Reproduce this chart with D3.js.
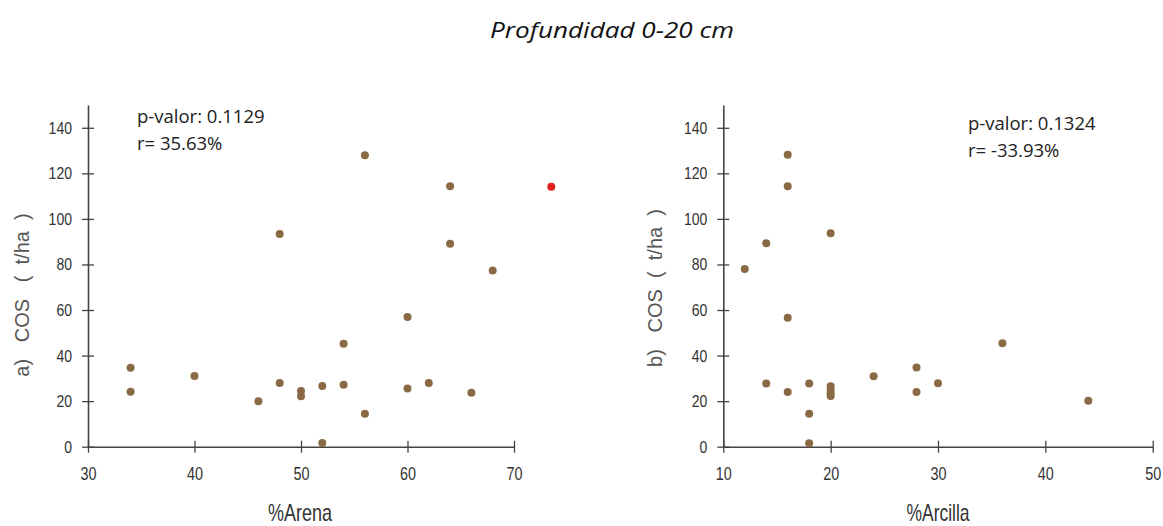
<!DOCTYPE html>
<html>
<head>
<meta charset="utf-8">
<script src="https://cdn.jsdelivr.net/npm/d3@7"></script>
<style>
  body { margin: 0; background: #fff; }
  .tick text { font-family: "Liberation Sans Narrow", "Liberation Sans", Arial, sans-serif; fill: #333; }
  .axis-title { font-family: "Liberation Sans Narrow", "Liberation Sans", Arial, sans-serif; fill: #333; }
  .y-title { font-family: "Liberation Sans", Arial, sans-serif; fill: #555; white-space: pre; }
  .note { font-family: "Open Sans", "Noto Sans", sans-serif; fill: #222; }
</style>
</head>
<body>
<svg id="canvas" width="1163" height="526"></svg>
<script>
// panel a: %Arena vs COS
var arenaX = [34, 34, 40, 46, 48, 48, 50, 50, 52, 52, 54, 54, 56, 56, 60, 60, 62, 64, 64, 66, 68];
var arenaY = [34.7, 24.1, 31.0, 19.9, 28.0, 93.4, 24.4, 22.1, 26.6, 1.6, 45.2, 27.2, 14.5, 127.9, 56.9, 25.5, 28.0, 114.3, 89.1, 23.7, 77.3];
var arenaOutX = [73.5];
var arenaOutY = [114.1];
// panel b: %Arcilla vs COS
var arcillaX = [12, 14, 14, 16, 16, 16, 16, 18, 18, 18, 20, 20, 20, 20, 20, 24, 28, 28, 30, 36, 44];
var arcillaY = [78.0, 89.3, 27.7, 128.2, 114.3, 56.6, 24.0, 27.7, 14.5, 1.5, 93.7, 26.5, 25.0, 23.5, 22.3, 30.9, 34.8, 24.0, 27.8, 45.4, 20.2];

var yTicks = [0, 20, 40, 60, 80, 100, 120, 140];
var arenaTicks = [30, 40, 50, 60, 70];
var arcillaTicks = [10, 20, 30, 40, 50];

var canvas = d3.select("#canvas");

canvas.append("text")
  .attr("x", 612).attr("y", 38)
  .attr("text-anchor", "middle")
  .attr("font-family", "'Open Sans', sans-serif")
  .attr("font-style", "italic")
  .attr("font-size", 22)
  .attr("textLength", 244)
  .attr("lengthAdjust", "spacingAndGlyphs")
  .attr("fill", "#111")
  .text("Profundidad 0-20 cm");

function panel(p) {
  var x = d3.scaleLinear().domain([p.xTicks[0], p.xTicks[p.xTicks.length - 1]]).range([p.left, p.right]);
  var y = d3.scaleLinear().domain([0, 150]).range([446.7, 105]);
  var g = canvas.append("g");

  var xAxis = g.append("g")
    .attr("transform", "translate(0," + y(0) + ")")
    .call(d3.axisBottom(x).tickValues(p.xTicks).tickSizeOuter(0).tickSizeInner(6));
  xAxis.selectAll(".tick line").attr("y1", -6).attr("y2", 6).attr("stroke", "#444").attr("stroke-width", 1.3);
  xAxis.selectAll(".tick text").attr("y", 21).attr("font-size", 18)
    .attr("textLength", 16).attr("lengthAdjust", "spacingAndGlyphs");
  xAxis.select(".domain").attr("stroke", "#444").attr("stroke-width", 1.6);

  var yAxis = g.append("g")
    .attr("transform", "translate(" + p.left + ",0)")
    .call(d3.axisLeft(y).tickValues(yTicks).tickSizeOuter(0).tickSizeInner(6));
  yAxis.selectAll(".tick line").attr("x1", -6).attr("x2", 6).attr("stroke", "#444").attr("stroke-width", 1.3);
  yAxis.selectAll(".tick text").attr("x", -16).attr("font-size", 17)
    .attr("textLength", function(d) { return String(d).length * 7.8; })
    .attr("lengthAdjust", "spacingAndGlyphs");
  yAxis.select(".domain").attr("stroke", "#444").attr("stroke-width", 1.6);

  // axis titles
  g.append("text")
    .attr("class", "axis-title")
    .attr("x", p.xTitleX).attr("y", 521)
    .attr("text-anchor", "middle")
    .attr("font-size", 24)
    .attr("textLength", p.xTitleLen)
    .attr("lengthAdjust", "spacingAndGlyphs")
    .text(p.xTitle);
  g.append("text")
    .attr("class", "y-title")
    .attr("transform", "translate(" + p.yTitleX + "," + p.yTitleY + ") rotate(-90)")
    .attr("text-anchor", "middle")
    .attr("font-size", 20)
    .text(p.yTitle);

  // annotation
  g.append("text").attr("class", "note").attr("x", p.noteX).attr("y", p.noteY)
    .attr("font-size", 18.5).text(p.note1);
  g.append("text").attr("class", "note").attr("x", p.noteX).attr("y", p.noteY + 27)
    .attr("font-size", 18.5).text(p.note2);

  g.append("g").selectAll("circle")
    .data(p.xs)
    .enter()
    .append("circle")
    .attr("cx", function(d) { return x(d); })
    .attr("cy", function(d, i) { return y(p.ys[i]); })
    .attr("r", 4)
    .attr("fill", "#8a6a45");

  if (p.outX) {
    g.append("g").selectAll("circle")
      .data(p.outX)
      .enter()
      .append("circle")
      .attr("cx", function(d) { return x(d); })
      .attr("cy", function(d, i) { return y(p.outY[i]); })
      .attr("r", 4)
      .attr("fill", "#e3201e");
  }
}

panel({
  xs: arenaX, ys: arenaY, outX: arenaOutX, outY: arenaOutY,
  xTicks: arenaTicks, left: 88, right: 514,
  xTitle: "%Arena", xTitleX: 300, xTitleLen: 64,
  yTitle: "a)   COS   (  t/ha  )", yTitleX: 29, yTitleY: 295,
  note1: "p-valor: 0.1129", note2: "r= 35.63%", noteX: 137, noteY: 123
});

panel({
  xs: arcillaX, ys: arcillaY,
  xTicks: arcillaTicks, left: 723.3, right: 1152.7,
  xTitle: "%Arcilla", xTitleX: 938, xTitleLen: 63,
  yTitle: "b)   COS  (  t/ha  )", yTitleX: 662, yTitleY: 288,
  note1: "p-valor: 0.1324", note2: "r= -33.93%", noteX: 968, noteY: 130
});
</script>
</body>
</html>
